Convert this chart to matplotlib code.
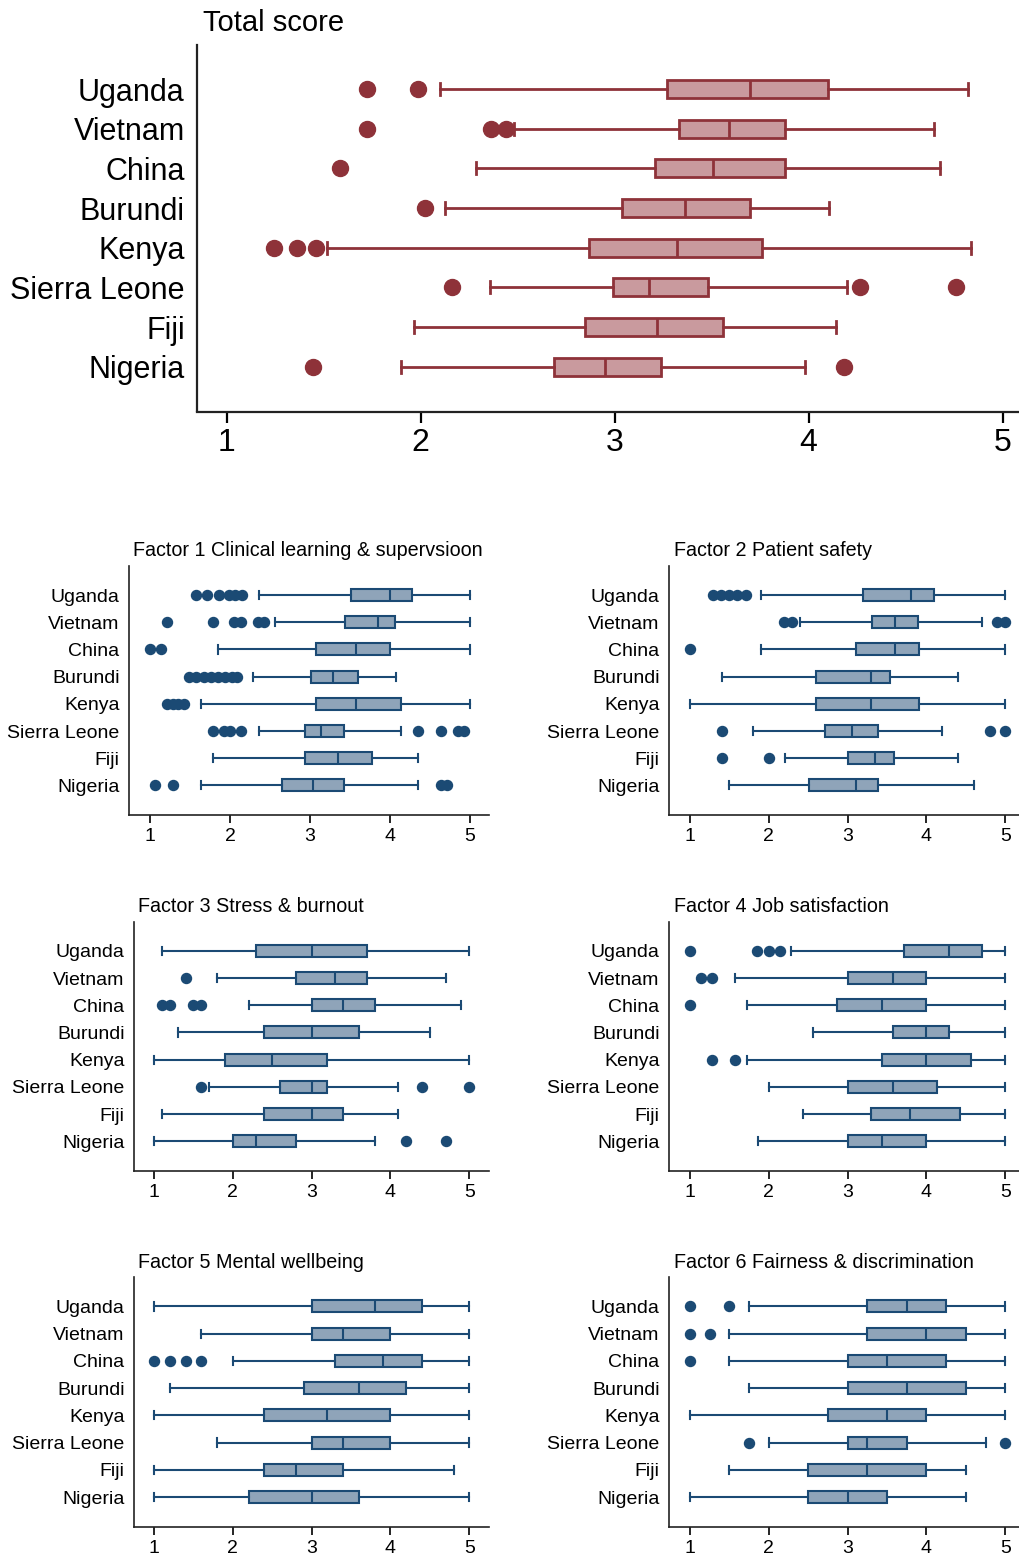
import matplotlib
matplotlib.use("Agg")
import matplotlib.pyplot as plt

plt.rcParams['font.family'] = ['Liberation Sans', 'DejaVu Sans']

countries = ["Uganda", "Vietnam", "China", "Burundi", "Kenya", "Sierra Leone", "Fiji", "Nigeria"]

# each row: [whislo, q1, median, q3, whishi]
total_stats = [
    [2.10, 3.27, 3.70, 4.10, 4.82],
    [2.48, 3.33, 3.59, 3.88, 4.645],
    [2.285, 3.21, 3.505, 3.88, 4.68],
    [2.124, 3.04, 3.363, 3.70, 4.105],
    [1.52, 2.87, 3.32, 3.76, 4.84],
    [2.36, 2.99, 3.18, 3.48, 4.20],
    [1.966, 2.85, 3.22, 3.56, 4.14],
    [1.90, 2.69, 2.95, 3.24, 3.98],
]
total_fliers = [
    [1.726, 1.985],
    [1.726, 2.362, 2.44],
    [1.584],
    [2.023],
    [1.243, 1.363, 1.461],
    [2.162, 4.263, 4.76],
    [],
    [1.445, 4.184],
]

f1_stats = [
    [2.358, 3.508, 4.0, 4.275, 5.0],
    [2.567, 3.433, 3.854, 4.0625, 5.0],
    [1.854, 3.079, 3.571, 4.0, 5.0],
    [2.29, 3.008, 3.2875, 3.596, 4.075],
    [1.6375, 3.079, 3.571, 4.133, 5.0],
    [2.358, 2.933, 3.1375, 3.421, 4.142],
    [1.783, 2.933, 3.354, 3.775, 4.354],
    [1.6375, 2.654, 3.033, 3.421, 4.354],
]
f1_fliers = [
    [1.571, 1.717, 1.858, 1.992, 2.067, 2.146],
    [1.217, 1.783, 2.054, 2.142, 2.346, 2.429],
    [1.0, 1.142],
    [1.49, 1.58, 1.675, 1.767, 1.854, 1.9375, 2.02, 2.083],
    [1.208, 1.283, 1.354, 1.425],
    [1.783, 1.925, 2.0, 2.142, 4.354, 4.6375, 4.854, 4.925],
    [],
    [1.067, 1.283, 4.6375, 4.708],
]

f2_stats = [
    [1.9, 3.2, 3.8, 4.1, 5.0],
    [2.395, 3.31, 3.605, 3.89, 4.7],
    [1.9, 3.1, 3.6, 3.9, 5.0],
    [1.4, 2.6, 3.3, 3.54, 4.4],
    [1.0, 2.6, 3.3, 3.9, 5.0],
    [1.8, 2.71, 3.05, 3.39, 4.2],
    [2.2, 3.0, 3.35, 3.59, 4.4],
    [1.5, 2.51, 3.1, 3.39, 4.6],
]
f2_fliers = [
    [1.292, 1.397, 1.499, 1.6, 1.706],
    [2.197, 2.298, 4.89, 5.0],
    [1.0],
    [],
    [],
    [1.4, 4.8, 5.0],
    [1.4, 2.0],
    [],
]

f3_stats = [
    [1.1, 2.3, 3.0, 3.7, 5.0],
    [1.8, 2.8, 3.3, 3.7, 4.7],
    [2.2, 3.0, 3.4, 3.8, 4.9],
    [1.3, 2.4, 3.0, 3.6, 4.5],
    [1.0, 1.9, 2.5, 3.2, 5.0],
    [1.7, 2.6, 3.0, 3.2, 4.1],
    [1.1, 2.4, 3.0, 3.4, 4.1],
    [1.0, 2.0, 2.3, 2.8, 3.8],
]
f3_fliers = [
    [],
    [1.4],
    [1.1, 1.2, 1.5, 1.6],
    [],
    [],
    [1.6, 4.4, 5.0],
    [],
    [4.2, 4.7],
]

f4_stats = [
    [2.28, 3.72, 4.285, 4.71, 5.0],
    [1.567, 3.0, 3.571, 4.0, 5.0],
    [1.72, 2.865, 3.43, 4.0, 5.0],
    [2.565, 3.58, 4.0, 4.28, 5.0],
    [1.72, 3.435, 4.0, 4.56, 5.0],
    [2.0, 3.0, 3.571, 4.133, 5.0],
    [2.43, 3.29, 3.786, 4.42, 5.0],
    [1.858, 3.0, 3.43, 4.0, 5.0],
]
f4_fliers = [
    [1.0, 1.854, 2.0, 2.14],
    [1.14, 1.283],
    [1.0],
    [],
    [1.283, 1.571],
    [],
    [],
    [],
]

f5_stats = [
    [1.0, 3.0, 3.8, 4.4, 5.0],
    [1.6, 3.0, 3.4, 4.0, 5.0],
    [2.0, 3.3, 3.9, 4.4, 5.0],
    [1.2, 2.9, 3.6, 4.2, 5.0],
    [1.0, 2.4, 3.2, 4.0, 5.0],
    [1.8, 3.0, 3.4, 4.0, 5.0],
    [1.0, 2.4, 2.8, 3.4, 4.8],
    [1.0, 2.2, 3.0, 3.6, 5.0],
]
f5_fliers = [
    [],
    [],
    [1.0, 1.2, 1.4, 1.6],
    [],
    [],
    [],
    [],
    [],
]

f6_stats = [
    [1.75, 3.25, 3.75, 4.25, 5.0],
    [1.5, 3.25, 4.0, 4.5, 5.0],
    [1.5, 3.0, 3.5, 4.25, 5.0],
    [1.75, 3.0, 3.75, 4.5, 5.0],
    [1.0, 2.75, 3.5, 4.0, 5.0],
    [2.0, 3.0, 3.25, 3.75, 4.75],
    [1.5, 2.5, 3.25, 4.0, 4.5],
    [1.0, 2.5, 3.0, 3.5, 4.5],
]
f6_fliers = [
    [1.0, 1.5],
    [1.0, 1.25],
    [1.0],
    [],
    [],
    [1.75, 5.0],
    [],
    [],
]

ticks = [1, 2, 3, 4, 5]

W, H = 1019, 1555
fig = plt.figure(figsize=(W / 100, H / 100), dpi=100)


def rect(x0, x1, ytop, ybot):
    return [x0 / W, 1 - ybot / H, (x1 - x0) / W, (ybot - ytop) / H]


def make_stats(stats, fliers):
    out = []
    for s, f in zip(stats, fliers):
        out.append(dict(whislo=s[0], q1=s[1], med=s[2], q3=s[3], whishi=s[4], fliers=f))
    return out


def draw(ax, stats, fliers, edge, fill, lw, ms, width, xlim, ylim, fs_lab, fs_tick,
         ticklen, tickpad, labpad, spine_lw):
    n = len(countries)
    pos = list(range(n, 0, -1))
    ax.bxp(make_stats(stats, fliers), positions=pos, vert=False, widths=width,
           capwidths=0.3, patch_artist=True, showfliers=True,
           boxprops=dict(facecolor=fill, edgecolor=edge, linewidth=lw),
           whiskerprops=dict(color=edge, linewidth=lw),
           capprops=dict(color=edge, linewidth=lw),
           medianprops=dict(color=edge, linewidth=lw),
           flierprops=dict(marker='o', markerfacecolor=edge, markeredgecolor=edge,
                           markersize=ms, linestyle='none'))
    ax.set_xlim(*xlim)
    ax.set_ylim(*ylim)
    ax.set_xticks(ticks)
    ax.set_xticklabels([str(t) for t in ticks], fontsize=fs_tick)
    ax.set_yticks(pos)
    ax.set_yticklabels(countries, fontsize=fs_lab)
    ax.tick_params(axis='y', length=0, pad=labpad)
    ax.tick_params(axis='x', length=ticklen, width=spine_lw, pad=tickpad, colors='black')
    for sp in ['top', 'right']:
        ax.spines[sp].set_visible(False)
    for sp in ['left', 'bottom']:
        ax.spines[sp].set_linewidth(spine_lw)
        ax.spines[sp].set_color('#222222')


red_edge = '#8E3239'
red_fill = '#C99A9E'
blue_edge = '#1B4A74'
blue_fill = '#8FA4B9'

# Top panel
ax0 = fig.add_axes(rect(196.5, W, 45, 411.5))
draw(ax0, total_stats, total_fliers, red_edge, red_fill, 2.0, 11.5, 0.46,
     (0.845, 5.085), (-0.13, 9.11), 22, 23, 8, 4, 8.5, 1.6)
fig.text(203 / W, 1 - 23 / H, "Total score", fontsize=21, va='center', ha='left')

panels = [
    (f1_stats, f1_fliers, "Factor 1 Clinical learning & supervsioon", 129.3, 489.3, (0.741, 5.24), 566, 815, 133),
    (f2_stats, f2_fliers, "Factor 2 Patient safety", 669.3, W, (0.737, 5.174), 566, 815, 674),
    (f3_stats, f3_fliers, "Factor 3 Stress & burnout", 134.3, 489.3, (0.75, 5.254), 921.7, 1171, 138),
    (f4_stats, f4_fliers, "Factor 4 Job satisfaction", 669.3, W, (0.737, 5.174), 921.7, 1171, 674),
    (f5_stats, f5_fliers, "Factor 5 Mental wellbeing", 134.3, 489.3, (0.75, 5.254), 1277.3, 1526.7, 138),
    (f6_stats, f6_fliers, "Factor 6 Fairness & discrimination", 669.3, W, (0.737, 5.174), 1277.3, 1526.7, 674),
]

for st, fl, title, x0, x1, xl, yt, yb, tx in panels:
    ax = fig.add_axes(rect(x0, x1, yt, yb))
    draw(ax, st, fl, blue_edge, blue_fill, 1.5, 7.2, 0.44, xl, (-0.09, 9.07),
         14, 14, 6, 3.5, 7, 1.2)
    fig.text(tx / W, 1 - (yt - 15) / H, title, fontsize=14.2, va='center', ha='left')

fig.savefig("out.png", dpi=100, facecolor='white')
